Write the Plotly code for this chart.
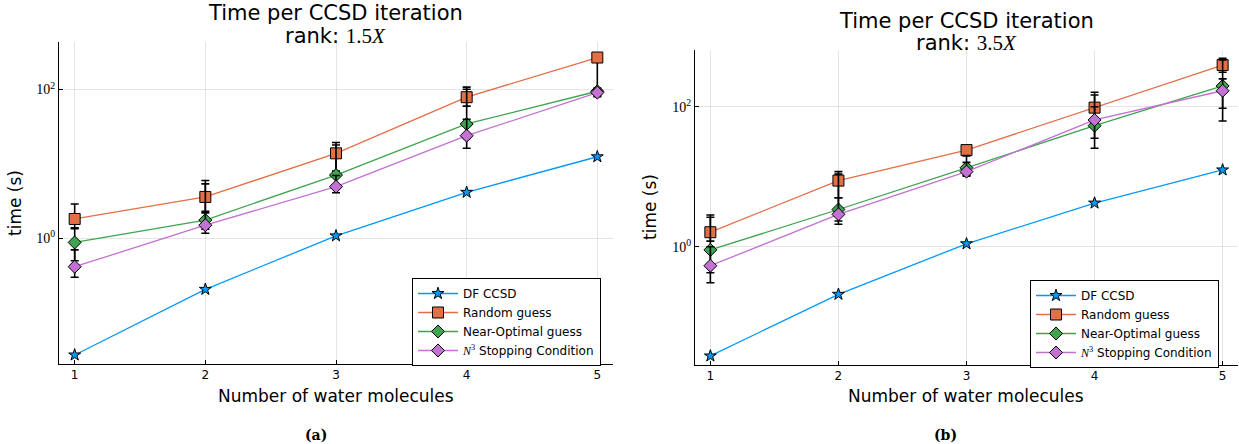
import plotly.graph_objects as go

W, H = 1239, 444

x_vals = [1, 2, 3, 4, 5]
x_ticks = [1, 2, 3, 4, 5]
y_tickvals = [1, 100]
y_ticktext = ["10<sup>0</sup>", "10<sup>2</sup>"]

series_names = [
    "DF CCSD",
    "Random guess",
    "Near-Optimal guess",
    "<span style='font-family:Liberation Serif'><i>N</i><sup>3</sup></span> Stopping Condition",
]
colors = ["#009AFA", "#E36F47", "#3EA44E", "#C371D2"]
symbols = ["star", "square", "diamond", "diamond"]
msizes = [9, 11, 10, 10]

# ---- panel (a): rank 1.5X ----
a_df = [0.027, 0.206, 1.08, 4.16, 12.5]
a_random = [1.82, 3.6, 13.9, 79, 270]
a_random_hi = [2.9, 6.0, 19.4, 108, 300]
a_random_lo = [1.38, 2.3, 8.0, 60, 85]
a_nearopt = [0.88, 1.76, 7.1, 34.5, 95]
a_nearopt_hi = [1.35, 5.4, 18.0, 101, 105]
a_nearopt_lo = [0.5, 1.33, 5.0, 22, 82]
a_n3 = [0.415, 1.50, 4.95, 24, 91]
a_n3_hi = [0.7, 2.2, 7.0, 40, 100]
a_n3_lo = [0.30, 1.17, 4.1, 16.3, 80]

# ---- panel (b): rank 3.5X ----
b_df = [0.0275, 0.209, 1.10, 4.2, 12.5]
b_random = [1.61, 8.8, 24, 97, 394]
b_random_hi = [2.84, 11.8, 26.8, 161, 490]
b_random_lo = [1.2, 5.0, 20, 60, 310]
b_nearopt = [0.90, 3.4, 13.4, 53.5, 198]
b_nearopt_hi = [2.63, 10.9, 20, 147, 464]
b_nearopt_lo = [0.306, 2.33, 10.2, 25.5, 95]
b_n3 = [0.535, 2.9, 11.8, 64.6, 169]
b_n3_hi = [1.0, 5.0, 16, 100, 250]
b_n3_lo = [0.425, 2.09, 10.5, 35.4, 62.5]

panel_a = [(a_df, None, None), (a_random, a_random_hi, a_random_lo),
           (a_nearopt, a_nearopt_hi, a_nearopt_lo), (a_n3, a_n3_hi, a_n3_lo)]
panel_b = [(b_df, None, None), (b_random, b_random_hi, b_random_lo),
           (b_nearopt, b_nearopt_hi, b_nearopt_lo), (b_n3, b_n3_hi, b_n3_lo)]

SANS = "DejaVu Sans"
SERIF = "Liberation Serif"

fig = go.Figure()
for pi, (panel, xa, ya, leg) in enumerate([(panel_a, "x", "y", "legend"),
                                            (panel_b, "x2", "y2", "legend2")]):
    for i, (vals, hi, lo) in enumerate(panel):
        err = None
        if hi is not None:
            err = dict(type="data", symmetric=False,
                       array=[h - v for h, v in zip(hi, vals)],
                       arrayminus=[v - l for v, l in zip(vals, lo)],
                       color="black", thickness=1.6, width=4)
        fig.add_trace(go.Scatter(
            x=x_vals, y=vals, mode="lines+markers", name=series_names[i],
            line=dict(color=colors[i], width=1.3),
            marker=dict(symbol=symbols[i], size=msizes[i], color=colors[i],
                        line=dict(color="black", width=1)),
            error_y=err, xaxis=xa, yaxis=ya, legend=leg,
        ))

axis_common = dict(showline=True, linecolor="black", linewidth=1, mirror=False,
                   ticks="inside", ticklen=4, tickcolor="black",
                   showgrid=True, gridcolor="rgba(0,0,0,0.1)", gridwidth=1,
                   zeroline=False)

xa_common = dict(axis_common, tickvals=x_ticks, range=[0.88, 5.12],
                 tickfont=dict(family=SANS, size=12, color="black"))
ya_common = dict(axis_common, type="log", tickvals=y_tickvals, ticktext=y_ticktext,
                 tickfont=dict(family=SERIF, size=14, color="black"))

legend_common = dict(xanchor="right", yanchor="top", bordercolor="black", borderwidth=1,
                     bgcolor="white", font=dict(family=SANS, size=12),
                     tracegroupgap=0, itemwidth=40)

fig.update_layout(
    width=W, height=H,
    margin=dict(l=0, r=0, t=0, b=0),
    paper_bgcolor="white", plot_bgcolor="white",
    font=dict(family=SANS, color="black"),
    xaxis=dict(xa_common, domain=[59 / W, 613 / W], anchor="y"),
    yaxis=dict(ya_common, domain=[1 - 364 / H, 1 - 42 / H], range=[-1.69, 2.64], anchor="x"),
    xaxis2=dict(xa_common, domain=[695 / W, 1238 / W], anchor="y2"),
    yaxis2=dict(ya_common, domain=[1 - 365 / H, 1 - 50 / H], range=[-1.69, 2.81], anchor="x2"),
    legend=dict(legend_common, x=601 / W, y=1 - 278 / H),
    legend2=dict(legend_common, x=1219 / W, y=1 - 280 / H),
    showlegend=True,
)

def ann(text, px, py, size, family=SANS, angle=0):
    fig.add_annotation(text=text, x=px / W, y=1 - py / H, xref="paper", yref="paper",
                       xanchor="center", yanchor="middle", showarrow=False,
                       textangle=angle, font=dict(family=family, size=size, color="black"))

# titles
ann("Time per CCSD iteration", 335, 13, 21)
ann("rank: <span style='font-family:Liberation Serif'>1.5<i>X</i></span>", 335, 36, 21)
ann("Time per CCSD iteration", 966, 21, 21)
ann("rank: <span style='font-family:Liberation Serif'>3.5<i>X</i></span>", 966, 43, 21)
# axis titles
ann("Number of water molecules", 336, 396, 17)
ann("Number of water molecules", 966, 396, 17)
ann("time (s)", 15, 203, 17, angle=-90)
ann("time (s)", 650, 207, 17, angle=-90)
# captions
ann("<b>(a)</b>", 316, 435, 14, family="DejaVu Serif")
ann("<b>(b)</b>", 945, 435, 14, family="DejaVu Serif")

fig.write_html(
    "out.html",
    config={"displayModeBar": False},
    post_script="document.body.style.margin='0';document.body.style.overflow='hidden';",
)
